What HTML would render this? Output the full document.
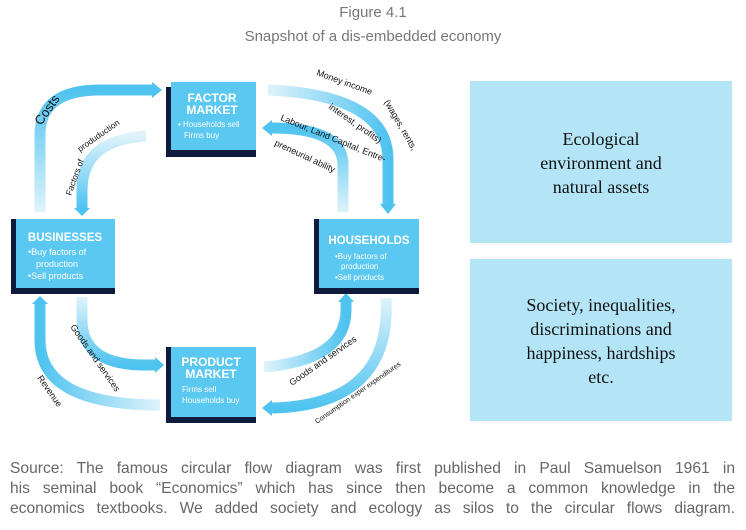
<!DOCTYPE html>
<html><head><meta charset="utf-8"><style>
body{margin:0;width:746px;height:530px;background:#fff;overflow:hidden;position:relative;font-family:"Liberation Sans",sans-serif}
.t{position:absolute;left:0;width:746px;text-align:center;color:#777;font-size:15px}
.src{position:absolute;left:10px;width:725px;color:#666;font-size:15.6px;line-height:20px;text-align:justify;text-align-last:justify;white-space:nowrap}
.rb{position:absolute;left:470px;width:262px;background:#b3e5f7;font-family:"Liberation Serif",serif;font-size:18px;line-height:24px;color:#111;text-align:center;display:flex;align-items:center;justify-content:center}
</style></head><body>
<div class="t" style="top:4px">Figure 4.1</div>
<div class="t" style="top:28px">Snapshot of a dis-embedded economy</div>
<div class="rb" style="top:81px;height:162px;padding-top:2px;box-sizing:border-box">Ecological<br>environment and<br>natural assets</div>
<div class="rb" style="top:259px;height:162px;padding-top:2px;box-sizing:border-box">Society, inequalities,<br>discriminations and<br>happiness, hardships<br>etc.</div>
<svg width="746" height="530" style="position:absolute;left:0;top:0" font-family="Liberation Sans,sans-serif">
<defs>
<linearGradient id="gv" x1="0" y1="1" x2="0" y2="0"><stop offset="0" stop-color="#def3fb"/><stop offset="1" stop-color="#4fc3f0"/></linearGradient>
<linearGradient id="gvd" x1="0" y1="0" x2="0" y2="1"><stop offset="0" stop-color="#def3fb"/><stop offset="1" stop-color="#4fc3f0"/></linearGradient>
<linearGradient id="gh" x1="1" y1="0" x2="0" y2="0"><stop offset="0" stop-color="#def3fb"/><stop offset="1" stop-color="#4fc3f0"/></linearGradient>
<linearGradient id="ghr" x1="0" y1="0" x2="1" y2="0"><stop offset="0" stop-color="#def3fb"/><stop offset="1" stop-color="#4fc3f0"/></linearGradient>
</defs>
<g fill="none" stroke-width="11">
<path d="M40 212 V135 Q40 90 100 90 H152" stroke="url(#gv)"/>
<path d="M146 136 Q82 140 82 190 V208" stroke="url(#gvd)"/>
<path d="M268 90 Q388 95 388 160 V206" stroke="url(#ghr)"/>
<path d="M343 212 V165 Q343 128 272 128" stroke="url(#gv)"/>
<path d="M82 297 V320 Q82 365 145 365 H155" stroke="url(#gvd)"/>
<path d="M160 405 Q40 405 40 340 V304" stroke="url(#gh)"/>
<path d="M264 367 Q346 360 346 310 V302" stroke="url(#ghr)"/>
<path d="M386 298 Q392 405 272 408" stroke="url(#gvd)"/>
</g>
<g fill="#4fc3f0">
<polygon points="152,82 162,90 152,98"/>
<polygon points="74,208 90,208 82,216"/>
<polygon points="380,204 396,204 388,214"/>
<polygon points="272,120 262,128 272,136"/>
<polygon points="155,357 164,365 155,373"/>
<polygon points="32,304 48,304 40,296"/>
<polygon points="338,302 354,302 346,293"/>
<polygon points="272,400 262,408 272,416"/>
</g>
<g>
<rect x="166" y="87" width="90" height="70" fill="#0e1b3d"/><rect x="171" y="82" width="85" height="68" fill="#5bc8f2"/>
<rect x="11" y="219" width="104" height="75" fill="#0e1b3d"/><rect x="16" y="219" width="99" height="69" fill="#5bc8f2"/>
<rect x="314" y="219" width="105" height="75" fill="#0e1b3d"/><rect x="319" y="219" width="100" height="69" fill="#5bc8f2"/>
<rect x="166" y="347" width="90" height="76" fill="#0e1b3d"/><rect x="171" y="347" width="85" height="70" fill="#5bc8f2"/>
</g>
<g fill="#fff" font-weight="bold">
<text x="212" y="102" font-size="12" text-anchor="middle">FACTOR</text>
<text x="212" y="114" font-size="12" text-anchor="middle">MARKET</text>
<text x="178" y="127" font-size="8" font-weight="normal">• Households sell</text>
<text x="184" y="138" font-size="8" font-weight="normal">Firms buy</text>
<text x="65" y="241" font-size="11.5" text-anchor="middle">BUSINESSES</text>
<text x="28" y="255" font-size="9" font-weight="normal">•Buy factors of</text>
<text x="36" y="267" font-size="9" font-weight="normal">production</text>
<text x="28" y="279" font-size="9" font-weight="normal">•Sell products</text>
<text x="369" y="244" font-size="11.5" text-anchor="middle">HOUSEHOLDS</text>
<text x="335" y="259" font-size="8" font-weight="normal">•Buy factors of</text>
<text x="341" y="269" font-size="8" font-weight="normal">production</text>
<text x="335" y="280" font-size="8" font-weight="normal">•Sell products</text>
<text x="211" y="366" font-size="12" text-anchor="middle">PRODUCT</text>
<text x="211" y="378" font-size="12" text-anchor="middle">MARKET</text>
<text x="182" y="392" font-size="8" font-weight="normal">Firms sell</text>
<text x="182" y="403" font-size="8" font-weight="normal">Households buy</text>
</g>
<g fill="#111" font-size="9">
<text x="0" y="0" font-size="13" transform="translate(41,126) rotate(-55)">Costs</text>
<text x="0" y="0" font-size="8.5" transform="translate(71,196) rotate(-70)">Factors of</text>
<text x="0" y="0" font-size="8.5" transform="translate(80,152) rotate(-35)">produduction</text>
<text x="0" y="0" transform="translate(316,75) rotate(20)">Money income</text>
<text x="0" y="0" transform="translate(384,102) rotate(60)">(wages, rents,</text>
<text x="0" y="0" transform="translate(328,108) rotate(35)">interest, profits)</text>
<text x="0" y="0" transform="translate(280,120) rotate(22)">Labour, Land Capital, Entre-</text>
<text x="0" y="0" transform="translate(274,145) rotate(25)">preneurial ability</text>
<text x="0" y="0" transform="translate(70,327) rotate(55)">Goods and services</text>
<text x="0" y="0" transform="translate(37,378) rotate(55)">Revenue</text>
<text x="0" y="0" transform="translate(292,386) rotate(-35)">Goods and services</text>
<text x="0" y="0" font-size="7" transform="translate(317,424) rotate(-35)">Consumption exper expenditures</text>
</g>
</svg>
<div class="src" style="top:459px">Source: The famous circular flow diagram was first published in Paul Samuelson 1961 in</div>
<div class="src" style="top:479px">his seminal book “Economics” which has since then become a common knowledge in the</div>
<div class="src" style="top:499px">economics textbooks. We added society and ecology as silos to the circular flows diagram.</div>
</body></html>
